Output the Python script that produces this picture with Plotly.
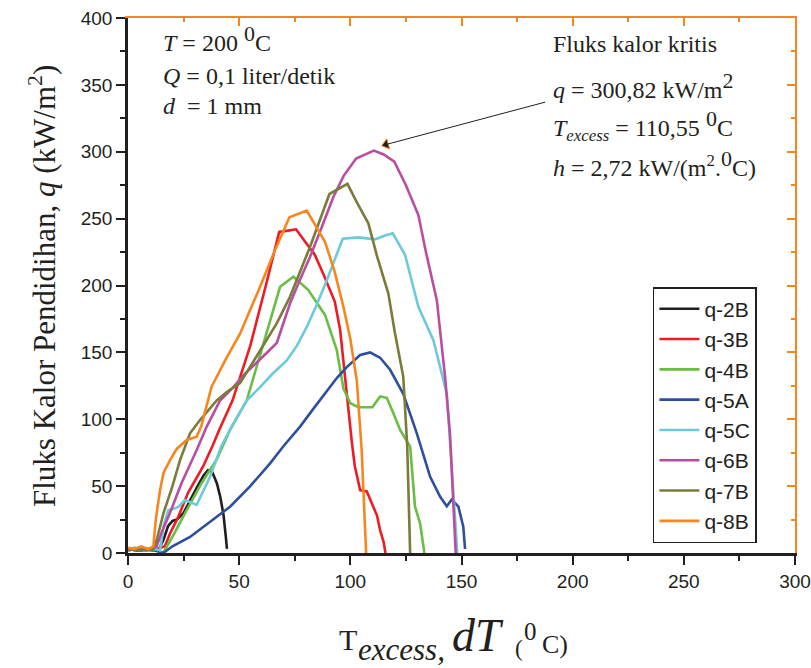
import plotly.graph_objects as go

# Boiling heat flux curves: excess temperature (deg C) vs heat flux q (kW/m^2)
series_names = ["q-2B", "q-3B", "q-4B", "q-5A", "q-5C", "q-6B", "q-7B", "q-8B"]
series_colors = ["#231f20", "#ed1c24", "#6abd45", "#2e4f9f", "#6dcadb", "#b94ea0", "#7b7b3a", "#f7861e"]

x_2B = [0, 3, 6, 9, 12, 14, 16, 18, 20, 22, 25, 28, 31, 34, 36, 38, 40, 41.5, 43, 44, 44.5]
q_2B = [2, 3, 2, 3, 2, 3, 10, 20, 24, 25, 30, 40, 49, 58, 62, 60, 52, 42, 28, 12, 3]

x_3B = [0, 4, 8, 11, 13, 16.6, 19, 22.6, 27, 33.7, 38, 41, 47, 55, 62, 68, 72, 75.6, 80, 84,
        88, 93, 95.4, 96.9, 98.4, 100.6, 102, 104.4, 107.4, 110.4, 112, 113.4, 115, 115.8]
q_3B = [3, 2, 3, 2, 3, 5, 15, 27, 45, 64.5, 80, 92, 114, 155, 200, 240, 241, 242, 232, 223,
        208, 188, 167, 142, 117, 84, 65, 47, 46, 35, 28, 17, 8, 0]

x_4B = [0, 4, 8, 12, 15.8, 20, 26.4, 33, 39.9, 45.9, 53.4, 60, 68.4, 74.4, 81.1, 88.6, 93.9,
        96.9, 100, 103.6, 109.9, 113.4, 116.4, 119, 122.4, 126.9, 129.1, 131.4, 133.3]
q_4B = [2, 3, 2, 2, 0, 12, 32, 52, 70, 92, 114, 151, 199, 206.6, 196.6, 178, 151.8,
        123, 112, 109, 109, 117, 116, 106, 92, 79.5, 34.6, 22, 0]

x_5A = [0, 4, 8, 12, 15.9, 20, 27.9, 36, 45.9, 55, 63.9, 70, 77.4, 83, 89.4, 94, 98.4, 104.4,
        108.9, 113.4, 117.9, 123.8, 129.9, 135.9, 140.4, 143.4, 145.6, 148.6, 150.8, 151.6]
q_5A = [3, 2, 3, 2, 0, 5, 12, 22, 34.6, 50, 67, 80, 94.5, 107, 121, 131, 139, 148,
        150, 146, 137, 119, 89.5, 57, 42, 35, 40, 34.6, 19.7, 3]

x_5C = [0, 3, 6, 9, 12, 14.4, 16, 18.1, 21.1, 23, 25.6, 28, 30.9, 36.9, 42, 46.6, 53.4, 59.4,
        65, 71.4, 76, 80.4, 85, 89.4, 93, 96.6, 103.6, 111.1, 115, 119.1, 124.6, 130.6, 137.4,
        143.4, 145.6, 147.1, 148.1]
q_5C = [3, 4, 3, 2, 3, 2, 20, 32, 33.4, 35, 39.6, 38, 36, 57, 80, 94.5, 114, 124,
        134, 144, 155, 169, 186, 204, 220, 235, 236, 234.5, 237, 239, 223, 184, 159,
        119, 64.5, 27, 0]

x_6B = [0, 4, 8, 11, 12.9, 15, 18.9, 24, 30.9, 35.4, 41.4, 47.4, 52, 57.9, 62, 66.9, 72.9, 77,
        81.9, 87, 92.4, 97, 102.6, 110.55, 115, 119.8, 125, 130.6, 134, 138.9, 142.6, 144.8,
        146.3, 147.4]
q_6B = [2, 3, 2, 3, 5, 15, 30, 52, 77, 94.5, 114, 124, 133, 142, 149, 157, 186.7, 203,
        221.5, 243, 266.4, 282, 295, 300.82, 298, 292.6, 275, 252.7, 225, 189, 131.8, 89.5,
        39.6, 0]

x_7B = [0, 4, 8, 11, 12.9, 16, 20, 23.4, 27.9, 32.4, 39.9, 45, 50.4, 58, 66.9, 72.9, 81.9,
        90.6, 98.7, 103, 108.1, 112, 117.1, 120, 123.8, 125.6, 126.3, 126.9]
q_7B = [3, 2, 3, 2, 9.7, 30, 50, 69.5, 89.5, 99.4, 114, 121, 127, 148, 171.7, 191.7, 229,
        268.4, 276, 262, 246.5, 222, 194, 165, 131.8, 79.5, 40, 0]

x_8B = [0, 3, 6, 9, 11.4, 12.5, 14.4, 16, 18.9, 22, 26.4, 30.9, 33, 36.1, 37.6, 44, 50.4, 55,
        59.4, 66, 72.6, 80.4, 84, 88.6, 93, 96.9, 100, 102.9, 105.1, 106.2, 107.1]
q_8B = [4, 3, 5, 3, 5, 25, 47, 60, 69.5, 78, 84.5, 87, 95, 114, 124.4, 145, 164, 182,
        199, 226, 251, 256, 246, 232.7, 210, 184, 160, 129, 77, 40, 0]

series_x = [x_2B, x_3B, x_4B, x_5A, x_5C, x_6B, x_7B, x_8B]
series_q = [q_2B, q_3B, q_4B, q_5A, q_5C, q_6B, q_7B, q_8B]

# Critical heat flux point
chf_x = 110.55
chf_q = 300.82

serif = "Liberation Serif, Times New Roman, serif"
sans = "Liberation Sans, Arial, sans-serif"
ink = "#231f20"
frame_orange = "#f7861e"

fig = go.Figure()
for name, color, xs, qs in zip(series_names, series_colors, series_x, series_q):
    fig.add_trace(go.Scatter(x=xs, y=qs, mode="lines", name=name,
                             line=dict(color=color, width=2.6)))

# arrowhead of the callout, sitting just right of the critical flux peak
fig.add_trace(go.Scatter(x=[chf_x + 5.5], y=[chf_q + 4.6], mode="markers",
                         marker=dict(symbol="triangle-left", size=9, angle=-16,
                                     color=ink, line=dict(color=frame_orange, width=1)),
                         showlegend=False, hoverinfo="skip"))

# invisible trace that carries the top/right frame axes
fig.add_trace(go.Scatter(x=[0], y=[0], xaxis="x2", yaxis="y2", mode="markers",
                         marker=dict(opacity=0), showlegend=False, hoverinfo="skip"))

x_ticks = [0, 50, 100, 150, 200, 250, 300]
y_ticks = [0, 50, 100, 150, 200, 250, 300, 350, 400]

fig.update_layout(
    width=811, height=668,
    margin=dict(l=128, r=16, t=18, b=115),
    plot_bgcolor="white", paper_bgcolor="white",
    showlegend=True,
    legend=dict(x=0.787, y=0.497, xanchor="left", yanchor="top",
                bordercolor=ink, borderwidth=1.5, bgcolor="white",
                font=dict(family=sans, size=21, color=ink),
                tracegroupgap=0, itemwidth=40),
    xaxis=dict(range=[0, 300], tickvals=x_ticks, automargin=False,
               ticks="outside", ticklen=9, tickwidth=1.5, tickcolor=ink,
               showline=True, linecolor=ink, linewidth=2.5, mirror=False,
               showgrid=False, zeroline=False,
               tickfont=dict(family=sans, size=19, color=ink),
               minor=dict(ticks="outside", ticklen=5, tickwidth=1.5, dtick=25,
                          tickcolor=ink, showgrid=False)),
    yaxis=dict(range=[0, 400], tickvals=y_ticks, automargin=False,
               ticks="outside", ticklen=9, tickwidth=1.5, tickcolor=ink,
               showline=True, linecolor=ink, linewidth=2.5, mirror=False,
               showgrid=False, zeroline=False,
               tickfont=dict(family=sans, size=19, color=ink),
               minor=dict(ticks="outside", ticklen=5, tickwidth=1.5, dtick=25,
                          tickcolor=ink, showgrid=False)),
    xaxis2=dict(range=[0, 300], overlaying="x", side="top", anchor="y",
                tickvals=x_ticks, automargin=False,
                ticks="inside", ticklen=8, tickwidth=1.5, tickcolor=frame_orange,
                showline=True, linecolor=frame_orange, linewidth=2,
                showticklabels=False, showgrid=False, zeroline=False,
                minor=dict(ticks="inside", ticklen=4, tickwidth=1.5, dtick=25,
                           tickcolor=frame_orange, showgrid=False)),
    yaxis2=dict(range=[0, 400], overlaying="y", side="right", anchor="x",
                tickvals=y_ticks, automargin=False,
                ticks="inside", ticklen=8, tickwidth=1.5, tickcolor=frame_orange,
                showline=True, linecolor=frame_orange, linewidth=2,
                showticklabels=False, showgrid=False, zeroline=False,
                minor=dict(ticks="inside", ticklen=4, tickwidth=1.5, dtick=25,
                           tickcolor=frame_orange, showgrid=False)),
)

text_font = dict(family=serif, size=24, color=ink)
big_sup = '<sup><span style="font-size:22px">{}</span></sup>'

# operating conditions
left_lines = [
    ("<i>T</i> = 200 " + big_sup.format("0") + "C", 370.2),
    ("<i>Q</i> = 0,1 liter/detik", 345.3),
    ("<i>d</i>  = 1 mm", 322.8),
]
for txt, yv in left_lines:
    fig.add_annotation(x=14.7, y=yv, xref="x", yref="y", text=txt, showarrow=False,
                       xanchor="left", yanchor="bottom", font=text_font)

# critical heat flux summary
right_lines = [
    ("Fluks kalor kritis", 369.1),
    ("<i>q</i> = 300,82 kW/m" + big_sup.format("2"), 335.3),
    ("<i>T</i><sub><i>excess</i></sub> = 110,55 " + big_sup.format("0") + "C", 303.7),
    ("<i>h</i> = 2,72 kW/(m<sup>2</sup>." + big_sup.format("0") + "C)", 276.7),
]
for txt, yv in right_lines:
    fig.add_annotation(x=190.1, y=yv, xref="x", yref="y", text=txt, showarrow=False,
                       xanchor="left", yanchor="bottom", font=text_font)

# callout line from the summary text to the arrowhead
fig.add_annotation(x=chf_x + 5.5, y=chf_q + 4.6, xref="x", yref="y",
                   ax=188.3, ay=337.4, axref="x", ayref="y",
                   text="", showarrow=True, arrowhead=0,
                   arrowwidth=1, arrowcolor=ink)

# y axis title
fig.add_annotation(x=-0.129, y=0.499, xref="paper", yref="paper", textangle=-90,
                   text="Fluks Kalor Pendidihan, <i>q</i> (kW/m<sup>2</sup>)",
                   showarrow=False, xanchor="center", yanchor="middle",
                   font=dict(family=serif, size=31, color=ink))

# x axis title, assembled piece by piece: (text, left px, centre px, size)
plot_left, plot_w, plot_bottom, plot_h = 128, 667, 553, 535
x_title_parts = [
    ("T", 338, 639.5, 30),
    ("<i>excess,</i>", 357, 649.5, 31),
    ("<i>dT</i>", 451, 635.0, 46),
    ("(", 514, 648.0, 23),
    ("0", 523, 631.0, 25),
    ("C)", 541, 644.0, 26),
]
for txt, px, py, size in x_title_parts:
    fig.add_annotation(x=(px - plot_left) / plot_w, y=(plot_bottom - py) / plot_h,
                       xref="paper", yref="paper", text=txt, showarrow=False,
                       xanchor="left", yanchor="middle", borderpad=0,
                       font=dict(family=serif, size=size, color=ink))

fig.write_html("out.html")
